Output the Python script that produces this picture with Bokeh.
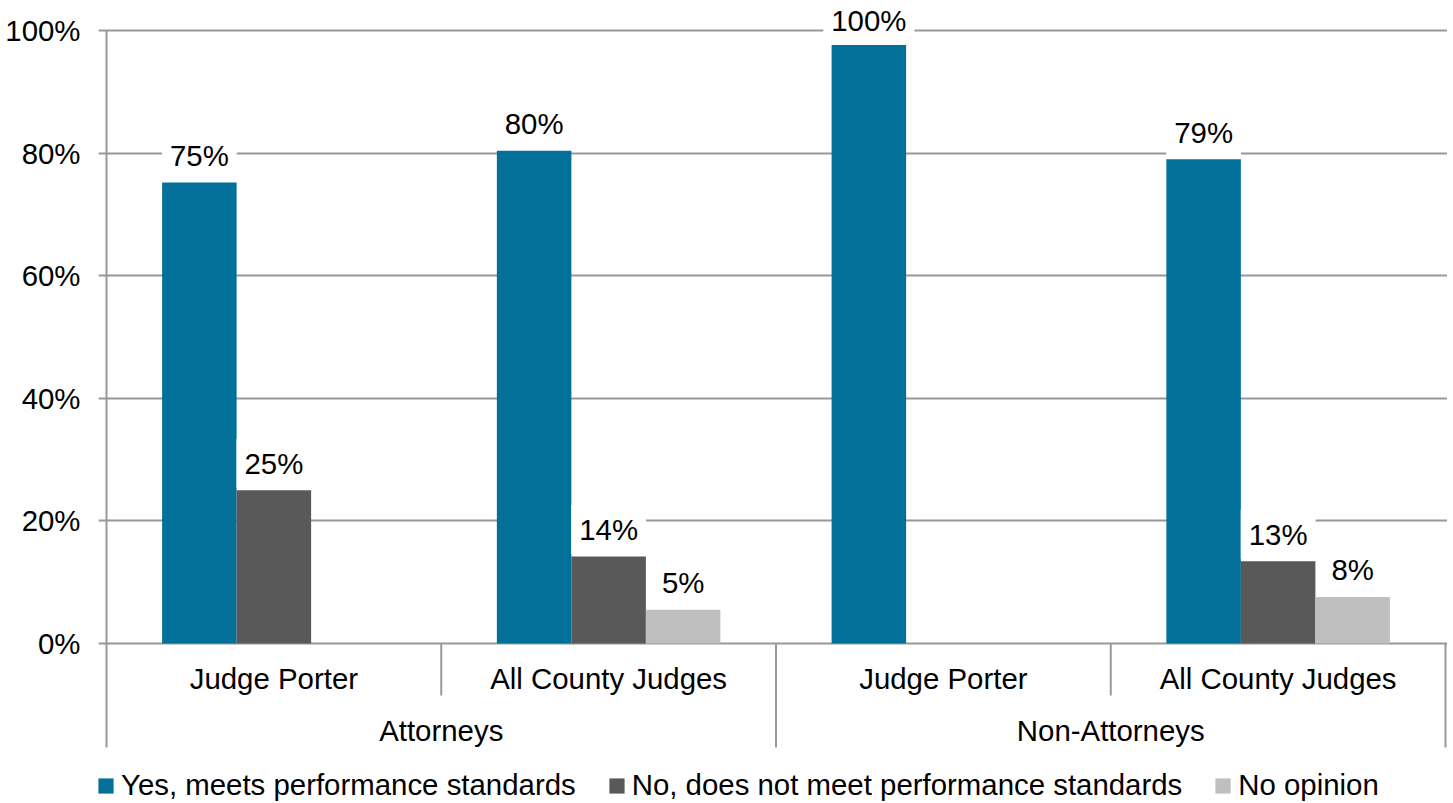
import numpy as np
from bokeh.plotting import figure
from bokeh.models import (ColumnDataSource, Range1d, FixedTicker, PrintfTickFormatter,
                          Legend, LegendItem)
from bokeh.core.properties import value
from bokeh.embed import file_html
from bokeh.resources import INLINE

# ---------------- data ----------------
categories = ["Judge Porter", "All County Judges", "Judge Porter", "All County Judges"]
groups = ["Attorneys", "Non-Attorneys"]
series = ["Yes, meets performance standards",
          "No, does not meet performance standards",
          "No opinion"]
yes_vals = [75.2, 80.4, 98.1, 79.0]
no_vals = [25.0, 14.2, 0.0, 13.4]
noop_vals = [0.0, 5.5, 0.0, 7.6]
yes_labels = ["75%", "80%", "100%", "79%"]
no_labels = ["25%", "14%", "", "13%"]
noop_labels = ["", "5%", "", "8%"]
y_ticks = [0, 20, 40, 60, 80, 100]

# ---------------- style / layout ----------------
colors = ["#03709A", "#595959", "#BFBFBF"]
FONT = "Liberation Sans"
FS = "29.4px"
GRID = "#989898"
W, H = 1447, 801
LEFT = 98                 # frame left (tick stubs start here)
AXIS_X = 106              # pixel position of the category axis origin
PX = 6.13                 # pixels per percent
ZERO = 643                # canvas y of 0%
UNIT = (1445 - AXIS_X) / 4.0
x_start = -(AXIS_X - LEFT) / UNIT
x_end = (W - AXIS_X) / UNIT
y_end = ZERO / PX
y_start = -(H - ZERO) / PX
axis_bottom = -(747 - ZERO) / PX
inner_bottom = -(695 - ZERO) / PX
cat_label_y = -(678 - ZERO) / PX
grp_label_y = -(730 - ZERO) / PX
label_gap = 27 / PX
label_cap = 100 + 10 / PX
bar_w = 0.2226
offsets = [-bar_w, 0.0, bar_w]

p = figure(width=W, height=H, output_backend="svg", toolbar_location=None,
           x_range=Range1d(x_start, x_end), y_range=Range1d(y_start, y_end),
           x_axis_location=None, min_border=0, min_border_left=LEFT,
           min_border_right=0, min_border_top=0, min_border_bottom=0)
p.outline_line_color = None
p.xgrid.visible = False

# y axis (labels only; the axis line is drawn at the category origin below)
ax = p.yaxis[0]
ax.ticker = FixedTicker(ticks=y_ticks)
ax.formatter = PrintfTickFormatter(format="%d%%")
ax.axis_line_color = None
ax.major_tick_line_color = None
ax.minor_tick_line_color = None
ax.major_tick_out = 0
ax.major_tick_in = 0
ax.major_label_text_font = FONT
ax.major_label_text_font_size = FS
ax.major_label_text_color = "black"
ax.major_label_standoff = 18

p.ygrid.ticker = FixedTicker(ticks=y_ticks)
p.ygrid.grid_line_color = GRID
p.ygrid.grid_line_width = 2

# bars
centers = np.arange(len(categories)) + 0.5
all_vals = [yes_vals, no_vals, noop_vals]
all_labels = [yes_labels, no_labels, noop_labels]
items = []
for i, (vals, labs) in enumerate(zip(all_vals, all_labels)):
    vals = np.array(vals, dtype=float)
    xs = centers + offsets[i]
    src = ColumnDataSource(dict(left=xs - bar_w / 2, right=xs + bar_w / 2,
                                top=vals, bottom=np.zeros_like(vals)))
    r = p.quad(left="left", right="right", top="top", bottom="bottom", source=src,
               fill_color=colors[i], line_color=None)
    items.append(LegendItem(label=series[i], renderers=[r]))
    keep = [j for j, t in enumerate(labs) if t]
    lsrc = ColumnDataSource(dict(
        x=xs[keep],
        y=np.minimum(vals[keep] + label_gap, label_cap),
        t=[labs[j] for j in keep]))
    p.text(x="x", y="y", text="t", source=lsrc, text_align="center",
           text_baseline="middle", text_font=value(FONT), text_font_size=FS,
           text_color="black", background_fill_color="white", padding=8)

# value axis line + two-level category axis
bounds = np.arange(len(categories) + 1)
n_per_group = len(categories) // len(groups)
outer = [b for b in bounds if b % n_per_group == 0]
inner = [b for b in bounds if b % n_per_group != 0]
p.segment(x0=[0], y0=[max(y_ticks)], x1=[0], y1=[0], line_color=GRID, line_width=2)
p.segment(x0=outer, y0=[0] * len(outer), x1=outer, y1=[axis_bottom] * len(outer),
          line_color=GRID, line_width=2)
p.segment(x0=inner, y0=[0] * len(inner), x1=inner, y1=[inner_bottom] * len(inner),
          line_color=GRID, line_width=2)
p.text(x=list(centers), y=[cat_label_y] * len(categories), text=categories,
       text_align="center", text_baseline="middle", text_font=value(FONT),
       text_font_size=FS, text_color="black")
grp_x = [g * n_per_group + n_per_group / 2 for g in range(len(groups))]
p.text(x=grp_x, y=[grp_label_y] * len(groups), text=groups,
       text_align="center", text_baseline="middle", text_font=value(FONT),
       text_font_size=FS, text_color="black")

legend = Legend(items=items, location=(-2, -1), orientation="horizontal",
                glyph_width=19, glyph_height=19, label_standoff=6, spacing=31,
                padding=0, margin=0, border_line_color=None,
                background_fill_alpha=0, label_text_font=FONT,
                label_text_font_size=FS, label_text_color="black")
p.add_layout(legend, "center")

open("out.html", "w").write(file_html(p, INLINE))
